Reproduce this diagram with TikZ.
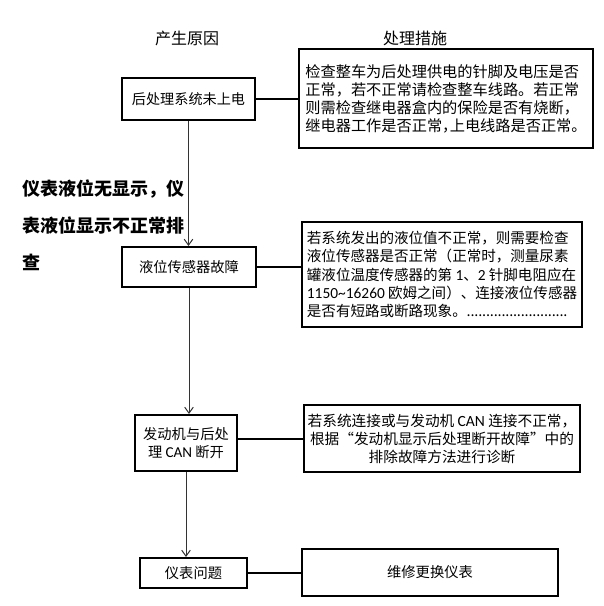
\documentclass[tikz,border=0pt]{standalone}
\usepackage{fontspec}
\setmainfont{Noto Sans CJK SC}
\newfontfamily\latinfont{Carlito}
\newcommand{\lat}[1]{{\latinfont\fontsize{1.06em}{1em}\selectfont #1}}
\newcommand{\hcomma}{\makebox[0.5em][l]{，}}
\usetikzlibrary{arrows.meta}
\begin{document}
\begin{tikzpicture}[x=0.75pt,y=-0.75pt,
  box/.style={draw,line width=1.5pt,inner sep=0pt,align=center},
  rbox/.style={draw,line width=1.5pt,inner sep=0pt,align=left},
  arr/.style={draw=black!80,line width=0.75pt,-{Straight Barb[length=4.5pt,width=6.5pt]}},
  conn/.style={draw,line width=1.5pt},
  hdr/.style={inner sep=0pt,font=\fontsize{12}{14}\selectfont}]
\useasboundingbox (0,0) rectangle (603,606);
% headers
\node[hdr] (h1) at (187,38) {产生原因};
\node[hdr] (h2) at (415,38) {处理措施};
% left bold text
\node[inner sep=0pt,anchor=west,align=left,font=\fontsize{13.5}{27.75}\selectfont\bfseries] (lt) at (22,225.5)
  {仪表液位无显示，仪\\表液位显示不正常排\\查};
% cause boxes
\node[box,minimum width=99.75pt,minimum height=31.5pt,font=\fontsize{10.6}{13}\selectfont] (b1) at (188.5,99) {后处理系统未上电};
\node[box,minimum width=100.5pt,minimum height=30pt,font=\fontsize{10.7}{13}\selectfont] (b2) at (189,267) {液位传感器故障};
\node[box,minimum width=76.5pt,minimum height=42pt,font=\fontsize{10.7}{13.5}\selectfont] (b3) at (186,443) {发动机与后处\\理 \lat{CAN} 断开};
\node[box,minimum width=80.25pt,minimum height=22.5pt,font=\fontsize{10.7}{13}\selectfont] (b4) at (193.5,573) {仪表问题};
% measure boxes
\node[rbox,minimum width=220.5pt,minimum height=74.25pt,font=\fontsize{11.4}{13.5}\selectfont] (r1) at (446,98.5)
  {检查整车为后处理供电的针脚及电压是否\\正常，若不正常请检查整车线路。若正常\\则需检查继电器盒内的保险是否有烧断，\\继电器工作是否正常\hcomma 上电线路是否正常。};
\node[rbox,minimum width=210pt,minimum height=78.75pt,font=\fontsize{10.9}{13.7}\selectfont] (r2) at (442,274.5)
  {若系统发出的液位值不正常，则需要检查\\液位传感器是否正常（正常时，测量尿素\\罐液位温度传感器的第 \lat{1}、\lat{2} 针脚电阻应在\\\lat{1150\textasciitilde16260} 欧姆之间）、连接液位传感器\\是否有短路或断路现象。\makebox[76pt][l]{\leaders\hbox to 2.9pt{\hss.\hss}\hfill}};
\node[box,minimum width=207pt,minimum height=50.25pt,font=\fontsize{11}{13.5}\selectfont] (r3) at (442,438.5)
  {若系统连接或与发动机 \lat{CAN} 连接不正常，\\根据“发动机显示后处理断开故障”中的\\排除故障方法进行诊断};
\node[box,minimum width=192pt,minimum height=35.25pt,font=\fontsize{10.7}{13}\selectfont] (r4) at (430,572.5) {维修更换仪表};
% vertical arrows
\draw[arr] (b1.south) -- (b1.south |- b2.north);
\draw[arr] (b2.south) -- (b2.south |- b3.north);
\draw[arr] (b3.south) -- (b3.south |- b4.north);
% horizontal connectors
\draw[conn] (b1.east) -- (b1.east -| r1.west);
\draw[conn] (b2.east) -- (b2.east -| r2.west);
\draw[conn] (r3.west -| b3.east) -- (r3.west);
\draw[conn] (b4.east) -- (b4.east -| r4.west);
\end{tikzpicture}
\end{document}
